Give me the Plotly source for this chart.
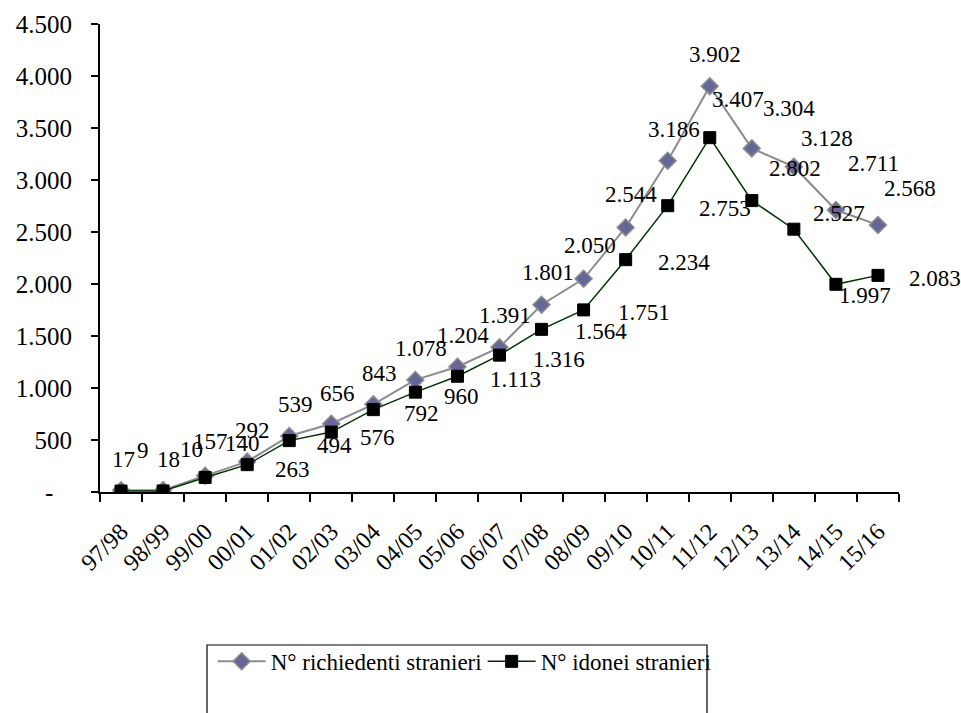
import plotly.graph_objects as go

# Anni scolastici
anni = ["97/98", "98/99", "99/00", "00/01", "01/02", "02/03", "03/04", "04/05",
        "05/06", "06/07", "07/08", "08/09", "09/10", "10/11", "11/12", "12/13",
        "13/14", "14/15", "15/16"]

# N° richiedenti stranieri
richiedenti = [17, 18, 157, 292, 539, 656, 843, 1078, 1204, 1391, 1801, 2050,
               2544, 3186, 3902, 3304, 3128, 2711, 2568]

# N° idonei stranieri
idonei = [9, 10, 140, 263, 494, 576, 792, 960, 1113, 1316, 1564, 1751,
          2234, 2753, 3407, 2802, 2527, 1997, 2083]

# Tick dell'asse Y
y_tick_vals = [0, 500, 1000, 1500, 2000, 2500, 3000, 3500, 4000, 4500]
y_tick_text = ["-\u00a0\u00a0\u00a0", "500", "1.000", "1.500", "2.000", "2.500",
               "3.000", "3.500", "4.000", "4.500"]

# Spostamenti (px) delle etichette dei valori rispetto al punto
rich_dx = [2, 5, 5, 5, 6, 6, 6, 6, 6, 5, 6, 6, 5, 6, 5, 37, 33, 38, 32]
rich_dy = [31, 31, 34, 31, 31, 30, 31, 31, 31, 32, 32, 33, 33, 31, 32, 40, 28, 47, 36]
ido_dx = [14, 15, 18, 26, 26, 27, 29, 27, 31, 31, 31, 32, 30, 29, 0, 15, 17, 1, 29]
ido_dy = [41, 41, 34, -5, -5, -5, -4, -4, -3, -4, -2, -3, -3, -3, 38, 32, 16, -11, -3]

FONT = "Liberation Serif"
TXT = dict(family=FONT, size=23, color="#000000")


def fmt(v):
    return f"{v:,}".replace(",", ".")


fig = go.Figure()

fig.add_trace(go.Scatter(
    x=anni, y=richiedenti, name="N° richiedenti stranieri",
    mode="lines+markers",
    line=dict(color="#8c8c8c", width=2),
    marker=dict(symbol="diamond", size=13, color="#666699",
                line=dict(color="#8c8c8c", width=1.5)),
))
fig.add_trace(go.Scatter(
    x=anni, y=idonei, name="N° idonei stranieri",
    mode="lines+markers",
    line=dict(color="#003300", width=1.5),
    marker=dict(symbol="square", size=12, color="#000000",
                line=dict(color="#000000", width=1)),
))

for a, v, dx, dy in zip(anni, richiedenti, rich_dx, rich_dy):
    fig.add_annotation(x=a, y=v, xref="x", yref="y", text=fmt(v),
                       showarrow=False, xanchor="center", yanchor="middle",
                       xshift=dx, yshift=dy, font=TXT)
for a, v, dx, dy in zip(anni, idonei, ido_dx, ido_dy):
    fig.add_annotation(x=a, y=v, xref="x", yref="y", text=fmt(v),
                       showarrow=False, xanchor="left", yanchor="middle",
                       xshift=dx, yshift=dy, font=TXT)

# Riquadro della legenda
fig.add_shape(type="rect", xref="paper", yref="paper",
              x0=(207 - 100) / 799, x1=(707 - 100) / 799,
              y0=(492 - 780) / 468, y1=(492 - 645) / 468,
              line=dict(color="#000000", width=1.2),
              fillcolor="rgba(0,0,0,0)", layer="below")

fig.update_layout(
    width=961, height=713,
    margin=dict(l=100, r=62, t=24, b=221),
    paper_bgcolor="white", plot_bgcolor="white",
    font=TXT,
    showlegend=True,
    legend=dict(orientation="h", x=0.141, xanchor="left",
                y=-0.316, yanchor="top", font=TXT,
                itemwidth=48, entrywidth=207, entrywidthmode="pixels",
                bgcolor="rgba(0,0,0,0)", borderwidth=0),
)

fig.update_xaxes(
    type="category", tickson="boundaries", ticks="outside", ticklen=8,
    tickwidth=1.5, tickcolor="#000000", showline=True, linecolor="#000000",
    linewidth=2, showgrid=False, zeroline=False, tickangle=-45,
    ticklabelstandoff=14, tickfont=dict(family=FONT, size=24, color="#000000"),
    range=[-0.5, len(anni) - 0.5],
)
fig.update_yaxes(
    range=[0, 4500], tickvals=y_tick_vals, ticktext=y_tick_text,
    ticks="outside", ticklen=7, tickwidth=1.5, tickcolor="#000000",
    showline=True, linecolor="#000000", linewidth=2, showgrid=False,
    zeroline=False, ticklabelstandoff=14,
    tickfont=dict(family=FONT, size=25, color="#000000"),
)

fig.write_html("out.html")
